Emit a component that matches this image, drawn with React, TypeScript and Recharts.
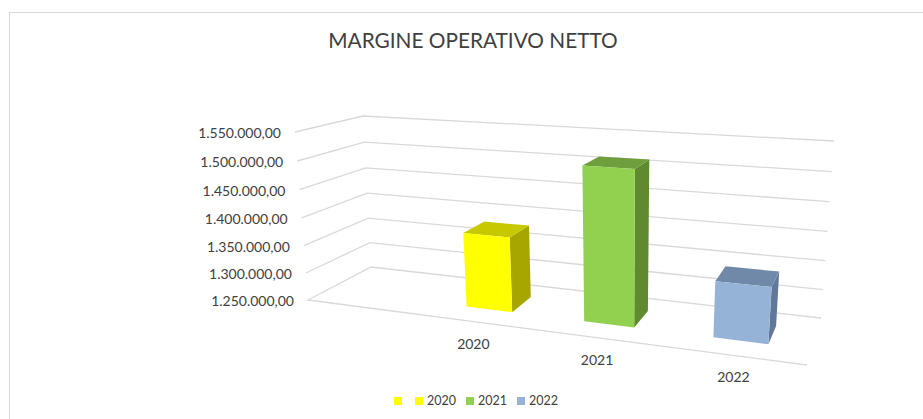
import { Bar, BarChart, CartesianGrid, Legend, XAxis, YAxis } from 'recharts';

const categories = ['', '2020', '2021', '2022'];
const values = [null, 1382000, 1513000, 1343000];
const yTicks = [1250000, 1300000, 1350000, 1400000, 1450000, 1500000, 1550000];
const yMin = 1250000;
const yMax = 1550000;

const tableData = categories.map((name, i) => ({ name, value: values[i] }));

const W = 923;
const H = 419;
// flat plot area, everything is then projected on the 3D box
const PLOT = { left: 100, top: 40, right: 100, bottom: 40 };
const plotW = W - PLOT.left - PLOT.right;
const plotH = H - PLOT.top - PLOT.bottom;

const FACES = [
  { front: '#FFFF00', top: '#C8C800', side: '#A6A600' },
  { front: '#FFFF00', top: '#C8C800', side: '#A6A600' },
  { front: '#92D050', top: '#6F9E3D', side: '#5F8A30' },
  { front: '#95B3D7', top: '#7189A8', side: '#60789A' },
];
const GRID = '#D9D9D9';
const TEXT = '#404040';
const FONT = 'Lato, sans-serif';

type Pt = [number, number];

function homography(p0: Pt, p1: Pt, p2: Pt, p3: Pt) {
  const dx1 = p1[0] - p2[0];
  const dx2 = p3[0] - p2[0];
  const sx = p0[0] - p1[0] + p2[0] - p3[0];
  const dy1 = p1[1] - p2[1];
  const dy2 = p3[1] - p2[1];
  const sy = p0[1] - p1[1] + p2[1] - p3[1];
  const den = dx1 * dy2 - dx2 * dy1;
  const g = (sx * dy2 - dx2 * sy) / den;
  const h = (dx1 * sy - sx * dy1) / den;
  const a = p1[0] - p0[0] + g * p1[0];
  const b = p3[0] - p0[0] + h * p3[0];
  const d = p1[1] - p0[1] + g * p1[1];
  const e = p3[1] - p0[1] + h * p3[1];
  return (u: number, v: number): Pt => {
    const w = g * u + h * v + 1;
    return [(a * u + b * v + p0[0]) / w, (d * u + e * v + p0[1]) / w];
  };
}

// u along categories, depth front to back
const floor = homography([308, 300], [807, 365], [821, 318], [371, 267]);
const ceiling = homography([295, 132], [822, 165], [834, 141], [363, 116]);

function project(u: number, v: number, depth: number): Pt {
  const a = floor(u, depth);
  const b = ceiling(u, depth);
  // slight vertical foreshortening, the box is seen from above
  const t = v / (1 + 0.045 * (1 - v));
  return [a[0] + (b[0] - a[0]) * t, a[1] + (b[1] - a[1]) * t];
}

const toU = (x: number) => (x - PLOT.left) / plotW;
const toV = (y: number) => (PLOT.top + plotH - y) / plotH;
const pts = (list: Pt[]) => list.map((p) => `${p[0].toFixed(1)},${p[1].toFixed(1)}`).join(' ');

// gapDepth 150%: bar takes the middle 40% of the floor depth
const D0 = 0.3;
const D1 = 0.7;

function Box3D(props: any) {
  const { x, y, width, height, payload } = props;
  const c = FACES[categories.indexOf(payload?.name)];
  if (!height || !c) return null;
  const u0 = toU(x);
  const u1 = toU(x + width);
  const vTop = toV(y);
  return (
    <g>
      <polygon
        fill={c.side}
        points={pts([project(u1, 0, D0), project(u1, 0, D1), project(u1, vTop, D1), project(u1, vTop, D0)])}
      />
      <polygon
        fill={c.top}
        points={pts([project(u0, vTop, D0), project(u1, vTop, D0), project(u1, vTop, D1), project(u0, vTop, D1)])}
      />
      <polygon
        fill={c.front}
        points={pts([project(u0, 0, D0), project(u1, 0, D0), project(u1, vTop, D0), project(u0, vTop, D0)])}
      />
    </g>
  );
}

function GridLine(props: any) {
  const v = toV(props.y1);
  const line = [project(0, v, 0), project(0, v, 1), project(1, v, 1)];
  // the floor also shows its front edge
  if (Math.abs(v) < 0.001) line.unshift(project(1, 0, 0), project(0, 0, 0));
  return <polyline key={props.key} points={pts(line)} fill="none" stroke={GRID} strokeWidth={1.3} />;
}

function YTick(props: any) {
  const v = toV(props.y);
  const p = project(0, v, 0);
  return (
    <text x={p[0] - 14} y={p[1] + 6} textAnchor="end" fontFamily={FONT} fontSize={14} fill={TEXT}>
      {props.payload.value.toLocaleString('it-IT', { minimumFractionDigits: 2 }).replace(/^1(\d)/, '1.$1')}
    </text>
  );
}

function XTick(props: any) {
  const p = project(toU(props.x), 0, 0);
  return (
    <text x={p[0]} y={p[1] + 27} textAnchor="middle" fontFamily={FONT} fontSize={14} fill={TEXT}>
      {props.payload.value}
    </text>
  );
}

function LegendRow() {
  return (
    <div style={{ display: 'flex', alignItems: 'center', fontFamily: FONT, fontSize: 12.5, color: TEXT, lineHeight: '16px' }}>
      {categories.map((name, i) => (
        <div key={i} style={{ display: 'flex', alignItems: 'center', marginRight: i === 0 ? 13 : 10 }}>
          <span style={{ width: 8, height: 8, background: FACES[i].front, marginRight: name ? 4 : 0 }} />
          <span>{name}</span>
        </div>
      ))}
    </div>
  );
}

export default function App() {
  return (
    <div style={{ position: 'absolute', left: 0, top: 0, width: W, height: H, overflow: 'hidden', background: '#fff' }}>
      <div
        style={{
          position: 'absolute',
          left: 9,
          top: 12,
          right: 0,
          bottom: 0,
          borderLeft: `1.5px solid ${GRID}`,
          borderTop: `1.5px solid ${GRID}`,
        }}
      />
      <BarChart
        width={W}
        height={H}
        data={tableData}
        barCategoryGap="30%"
        margin={{ top: PLOT.top, right: PLOT.right, bottom: 0, left: 0 }}
      >
        <text x={473} y={48} textAnchor="middle" fontFamily={FONT} fontSize={20.8} fill={TEXT}>
          MARGINE OPERATIVO NETTO
        </text>
        <CartesianGrid horizontal={GridLine} vertical={false} />
        <XAxis dataKey="name" height={PLOT.bottom} axisLine={false} tickLine={false} tick={XTick} interval={0} />
        <YAxis
          width={PLOT.left}
          domain={[yMin, yMax]}
          ticks={yTicks}
          axisLine={false}
          tickLine={false}
          tick={YTick}
        />
        <Legend
          layout="horizontal"
          verticalAlign="middle"
          content={LegendRow}
          wrapperStyle={{ top: 393, left: 394, width: 200 }}
        />
        <Bar dataKey="value" shape={Box3D} isAnimationActive={false} />
      </BarChart>
    </div>
  );
}
